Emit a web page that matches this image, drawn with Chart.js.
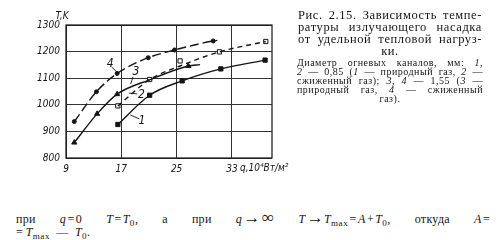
<!DOCTYPE html>
<html>
<head>
<meta charset="utf-8">
<script src="https://cdn.jsdelivr.net/npm/chart.js@4"></script>
<style>
    html, body { margin: 0; padding: 0; background: #fff; }
    body { width: 504px; height: 240px; position: relative; overflow: hidden; font-family: "Liberation Serif", "DejaVu Serif", serif; color: #151515; }
    #chart { position: absolute; left: 0; top: 0; }
    .ln { position: absolute; white-space: nowrap; text-align: justify; text-align-last: justify; }
    .cap { left: 298px; width: 184px; font-size: 12.5px; line-height: 12px; letter-spacing: 0.6px; }
    .note { left: 297px; width: 186px; font-size: 10px; line-height: 9px; letter-spacing: 0.5px; }
    .ctr { text-align: center; text-align-last: center; }
    .body { left: 16px; font-size: 12px; line-height: 12px; letter-spacing: 0.3px; }
    .big { font-size: 17px; line-height: 0; }
    sub { font-size: 9px; line-height: 0; letter-spacing: 0.6px; }
</style>
</head>
<body>
<canvas id="chart" width="300" height="190"></canvas>

<div class="ln cap" style="top:9px">Рис. 2.15. Зависимость темпе-</div>
<div class="ln cap" style="top:21px">ратуры излучающего насадка</div>
<div class="ln cap" style="top:33px">от удельной тепловой нагруз-</div>
<div class="ln cap ctr" style="top:45px">ки.</div>
<div class="ln note" style="top:58px">Диаметр огневых каналов, мм: <i>1</i>,</div>
<div class="ln note" style="top:67px"><i>2</i> — 0,85 (<i>1</i> — природный газ, <i>2</i> —</div>
<div class="ln note" style="top:76px">сжиженный газ); <i>3</i>, <i>4</i> — 1,55 (<i>3</i> —</div>
<div class="ln note" style="top:85px">природный газ, <i>4</i> — сжиженный</div>
<div class="ln note ctr" style="top:94px">газ).</div>

<div class="ln body" style="top:213px; width:474px">при <i>q</i>&#8202;=&#8202;0 <i>T</i>&#8202;=&#8202;<i>T</i><sub>0</sub>, а при <i>q</i>&#8202;<span class="big">→</span>&#8202;<span class="big">∞</span> <i>T</i>&#8202;<span class="big">→</span><i>T</i><sub>max</sub>&#8202;=&#8202;<i>A</i>&#8202;+&#8202;<i>T</i><sub>0</sub>, откуда <i>A</i>&#8202;=</div>
<div class="ln body" style="top:226px; text-align:left; text-align-last:left">=&#8201;<i>T</i><sub>max</sub>&#8194;—&#8194;<i>T</i><sub>0</sub>.</div>

<script>
// axis ticks
const xTicks = [9, 17, 25, 33];
const yTicks = [800, 900, 1000, 1100, 1200, 1300];

// measured points, q (10^4 W/m2) and T (K)
const q1 = [16.5, 21.1, 25.8, 31.4, 37.8];
const t1 = [926, 1036, 1090, 1135, 1168];
const q2 = [16.5, 21.1, 25.5, 31.2, 37.9];
const t2 = [996, 1095, 1165, 1199, 1238];
const q3 = [10.2, 13.5, 16.4, 26.7];
const t3 = [858, 966, 1040, 1146];
const q4 = [10.2, 13.4, 16.4, 20.9, 24.7, 30.3];
const t4 = [937, 1049, 1118, 1177, 1206, 1240];

// smoothed curves as drawn
const curveQ1 = [16.5, 21.1, 25.8, 31.4, 37.8];
const curveT1 = [926, 1036, 1090, 1135, 1168];
const curveQ2 = [16.5, 21.1, 25.4, 31.2, 37.9];
const curveT2 = [996, 1095, 1145, 1199, 1238];
const curveQ3 = [10.2, 13.5, 16.4, 21.1, 26.7, 28.4];
const curveT3 = [858, 966, 1040, 1094, 1146, 1151];
const curveQ4 = [10.2, 13.4, 16.4, 20.9, 24.7, 30.3, 30.9];
const curveT4 = [937, 1049, 1118, 1177, 1206, 1240, 1242];

// curve numbers with leader lines: [label, textQ, textT, fromQ, fromT, toQ, toT]
const curveLabels = [
    ['1', 20.0, 939, 18.3, 962, 19.6, 947],
    ['2', 19.9, 1037, 18.1, 1044, 19.3, 1041],
    ['3', 19.1, 1123, 18.35, 1078, 18.7, 1105],
    ['4', 15.4, 1153, 16.5, 1120, 15.6, 1142],
];

const ink = '#151515';
const tickFont = { family: '"Liberation Sans Narrow", "DejaVu Sans Condensed", sans-serif', size: 10, style: 'italic' };

const toXY = (qs, ts) => qs.map((q, i) => ({ x: q, y: ts[i] }));

const curve = (qs, ts, dash) => ({
    type: 'line',
    data: toXY(qs, ts),
    borderColor: ink,
    borderWidth: 1.4,
    borderDash: dash,
    pointRadius: 0,
    fill: false,
    cubicInterpolationMode: 'monotone',
});

const markers = (qs, ts, style, radius, bg) => ({
    type: 'scatter',
    data: toXY(qs, ts),
    showLine: false,
    pointStyle: style,
    pointRadius: radius,
    pointBackgroundColor: bg,
    pointBorderColor: ink,
    pointBorderWidth: 1,
});

const framePlugin = {
    id: 'frame',
    afterDraw(chart) {
        const { ctx, chartArea: a, scales } = chart;
        const x = scales.x;
        const y = scales.y;

        ctx.save();
        ctx.strokeStyle = ink;
        ctx.lineWidth = 1.2;
        ctx.strokeRect(a.left, a.top, a.right - a.left, a.bottom - a.top);

        ctx.fillStyle = ink;
        ctx.font = 'italic 10px "Liberation Sans Narrow", "DejaVu Sans Condensed", sans-serif';
        ctx.textBaseline = 'middle';
        ctx.textAlign = 'center';
        ctx.fillText('T,K', 62, 16);
        ctx.textAlign = 'left';
        ctx.fillText('q,10⁴Вт/м²', 240, 168);

        ctx.font = 'italic 12px "Liberation Sans Narrow", "DejaVu Sans Condensed", sans-serif';
        ctx.textAlign = 'center';
        ctx.lineWidth = 0.9;
        curveLabels.forEach(([label, tq, tt, fq, ft, eq, et]) => {
            ctx.fillText(label, x.getPixelForValue(tq), y.getPixelForValue(tt));
            ctx.beginPath();
            ctx.moveTo(x.getPixelForValue(fq), y.getPixelForValue(ft));
            ctx.lineTo(x.getPixelForValue(eq), y.getPixelForValue(et));
            ctx.stroke();
        });
        ctx.restore();
    },
};

new Chart(document.getElementById('chart'), {
    data: {
        datasets: [
            curve(curveQ1, curveT1, []),
            curve(curveQ2, curveT2, [5, 4]),
            curve(curveQ3, curveT3, []),
            curve(curveQ4, curveT4, [9, 4]),
            markers(q1, t1, 'rect', 3, ink),
            markers(q2, t2, 'rect', 3, '#fff'),
            markers(q3, t3, 'triangle', 3, ink),
            markers(q4, t4, 'circle', 2, ink),
        ],
    },
    options: {
        responsive: false,
        animation: false,
        devicePixelRatio: 1,
        layout: { padding: { top: 25, right: 28, left: 0, bottom: 0 } },
        plugins: {
            legend: { display: false },
            tooltip: { enabled: false },
        },
        scales: {
            x: {
                type: 'linear',
                min: 9,
                max: 38.8,
                afterBuildTicks: scale => { scale.ticks = xTicks.map(value => ({ value })); },
                afterFit: scale => { scale.height = 32; },
                grid: { color: '#333', lineWidth: 1, drawTicks: false },
                border: { display: false },
                ticks: { font: tickFont, color: ink, padding: 5, maxRotation: 0, callback: value => String(value) },
            },
            y: {
                type: 'linear',
                min: 800,
                max: 1300,
                afterBuildTicks: scale => { scale.ticks = yTicks.map(value => ({ value })); },
                afterFit: scale => { scale.width = 66; },
                grid: { color: '#333', lineWidth: 1, drawTicks: false },
                border: { display: false },
                ticks: { font: tickFont, color: ink, padding: 6, callback: value => String(value) },
            },
        },
    },
    plugins: [framePlugin],
});
</script>
</body>
</html>
